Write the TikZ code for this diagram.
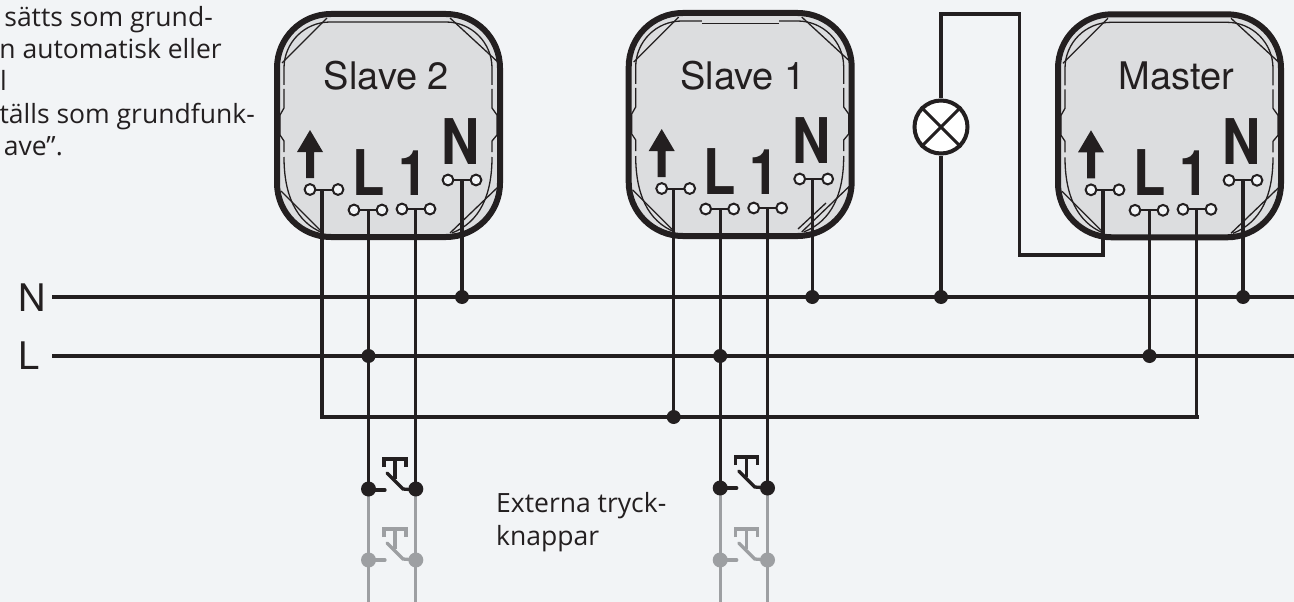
\documentclass[tikz,border=0pt]{standalone}
\usepackage{fontspec}
\setmainfont{Open Sans}
\newfontfamily\arialf{TeX Gyre Heros}
\definecolor{bgc}{HTML}{F2F4F6}
\definecolor{ink}{HTML}{231F20}
\definecolor{devfill}{HTML}{DCDDDF}
\definecolor{greyw}{HTML}{9D9FA2}
\tikzset{
  wire/.style={draw=ink,line width=3.3pt},
  greywire/.style={draw=greyw,line width=3.3pt},
  shell/.style={draw=ink,line width=6pt,fill=devfill,rounded corners=54pt},
  fine/.style={draw=ink,line width=1.3pt},
  term/.style={circle,draw=ink,line width=2pt,fill=bgc,minimum size=10.8pt,inner sep=0pt},
  dotn/.style={circle,fill=ink,minimum size=14pt,inner sep=0pt},
  dotg/.style={circle,fill=greyw,minimum size=15pt,inner sep=0pt},
  dots/.style={circle,fill=ink,minimum size=15pt,inner sep=0pt},
  lab/.style={inner sep=0pt,anchor=base,text=ink,font=\arialf\fontsize{38}{38}\selectfont},
  blab/.style={inner sep=0pt,anchor=base,text=ink,font=\arialf\bfseries\fontsize{63}{63}\selectfont,xscale=.84},
  body/.style={inner sep=0pt,text=ink,font=\fontsize{26.5}{26.5}\selectfont},
}
% #1 name, #2 label, #3 dx, #4 dy, #5 shift of the N wire, #6 label centre
\newcommand{\devicebox}[6]{%
  \begin{scope}[shift={(#3,#4)}]
    \path[shell] (277,14) rectangle (500,237);
    \draw[fine,rounded corners=46pt] (284,85) -- (284,22) -- (492,22) -- (492,85);
    \draw[fine] (284,89) -- (284,108) -- (280,115) -- (280,135) -- (284,141) -- (284,152);
    \draw[fine] (492,89) -- (492,108) -- (497,115) -- (497,135) -- (492,141) -- (492,152);
    \draw[fine] (284,157) .. controls (284,195) and (296,222) .. (323,233);
    \draw[fine] (492,157) .. controls (492,195) and (480,222) .. (452,233);
    \draw[fine] (282,63) -- (327,18);
    \draw[fine] (450,18) -- (500,64);
    \draw[fine] (281,191) -- (323,233);
    \draw[fine] (450,233) -- (498,187);
    \fill[ink] (310,130) -- (323,152) -- (314,152) -- (314,178) -- (306,178) -- (306,152) -- (297,152) -- cycle;
    \node[blab,anchor=base west] (#1-L) at (352,195) {L};
    \node[blab,anchor=base west] (#1-one) at (398,195) {1};
    \node[blab,anchor=base west] (#1-N) at (441,164) {N};
    \draw[fine,line width=2pt] (310,189.5) -- (338,189.5) (354,210) -- (382,210) (402,209) -- (430,209) (448,180) -- (476,180);
    \foreach \tx/\ty/\tn in {310/189.5/a,338/189.5/b,354/210/c,382/210/d,402/209/e,430/209/f,448/180/g,476/180/h}
      \node[term] (#1-\tn) at (\tx,\ty) {};
    \coordinate (#1-up) at (322,189.5);
    \coordinate (#1-live) at (368.5,210);
    \coordinate (#1-sw) at (415.8,209);
    \coordinate (#1-neu) at (462+#5,180);
  \end{scope}
  \node[lab] (#1-name) at (#6,89) {#2};
}
% #1 name, #2 left wire x, #3 right wire x, #4 y offset, #5 colour
\newcommand{\pushbutton}[5]{%
  \begin{scope}[shift={(#2-368.5,#4)}]
    \draw[draw=#5,line width=3.3pt,line cap=round] (368.5,490) -- (385,490);
    \draw[draw=#5,line width=3.3pt,line cap=round] (387,473) -- (403,489) -- (416,490);
    \draw[draw=#5,line width=3.3pt] (384,467) -- (384,459) -- (406,459) -- (406,467);
    \draw[draw=#5,line width=3.3pt] (395,459) -- (395,479);
  \end{scope}
}
\begin{document}
\begin{tikzpicture}[x=1pt,y=-1pt]
  \useasboundingbox[fill=bgc] (0,0) rectangle (1294,602);

  \devicebox{sl2}{Slave 2}{0}{0}{0}{386.5}
  \devicebox{sl1}{Slave 1}{351.7}{-1}{-1.4}{743}
  \devicebox{mas}{Master}{781}{0.3}{0}{1176.5}

  % Slave 1 details
  \draw[devfill,line width=2pt] (702,21) -- (779,21);
  \draw[ink,line width=1.6pt] (702,23.5) -- (779,23.5);
  \draw[fine] (798,229) -- (826,203);

  % buses
  \node[lab,anchor=base west] (nN) at (18,311) {N};
  \node[lab,anchor=base west] (nL) at (18,369) {L};
  \coordinate (nbusL) at (52,297);
  \coordinate (nbusR) at (1294,297);
  \coordinate (lbusL) at (52,356);
  \coordinate (lbusR) at (1294,356);
  \coordinate (cbusL) at (320,417);
  \coordinate (cbusR) at (1199,417);
  \path[wire,line width=3.8pt] (nbusL) -- (nbusR);
  \path[wire,line width=3.8pt] (lbusL) -- (lbusR);
  \path[wire] (cbusL) -- (cbusR);

  % grey tails
  \coordinate (bot1) at (368.5,602);
  \path[greywire] (sl2-live |- 0,490) -- (sl2-live |- bot1);
  \path[greywire] (sl2-sw |- 0,490) -- (sl2-sw |- bot1);
  \path[greywire] (sl1-live |- 0,490) -- (sl1-live |- bot1);
  \path[greywire] (sl1-sw |- 0,490) -- (sl1-sw |- bot1);

  % wires from the devices
  \coordinate (swy1) at (0,488);
  \path[wire] (sl2-up) -- (sl2-up |- cbusL);
  \path[wire] (sl2-live) -- (sl2-live |- swy1);
  \path[wire] (sl2-sw) -- (sl2-sw |- swy1);
  \path[wire] (sl2-neu) -- (sl2-neu |- nbusL);
  \path[wire] (sl1-up) -- (sl1-up |- cbusL);
  \path[wire] (sl1-live) -- (sl1-live |- swy1);
  \path[wire] (sl1-sw) -- (sl1-sw |- swy1);
  \path[wire] (sl1-neu) -- (sl1-neu |- nbusL);
  \path[wire] (mas-live) -- (mas-live |- lbusL);
  \path[wire] (mas-sw) -- (mas-sw |- cbusL);
  \path[wire] (mas-neu) -- (mas-neu |- nbusL);

  % lamp circuit
  \coordinate (turnA) at (1019.5,255);
  \coordinate (turnB) at (1019.5,14);
  \node[circle,draw=ink,line width=4pt,fill=white,minimum size=53pt,inner sep=0pt] (lamp) at (941,127) {};
  \draw[ink,line width=3pt] (lamp.north west) -- (lamp.south east) (lamp.north east) -- (lamp.south west);
  \path[wire,line join=miter] (mas-up) -- (mas-up |- turnA) -- (turnA) -- (turnB) -- (lamp |- turnB) -- (lamp.north);
  \path[wire] (lamp.south) -- (lamp |- nbusL);

  % junctions
  \foreach \src/\bus/\nm in {sl2-neu/nbusL/j1,sl1-neu/nbusL/j2,lamp/nbusL/j3,mas-neu/nbusL/j4,sl2-live/lbusL/j5,sl1-live/lbusL/j6,mas-live/lbusL/j7,sl1-up/cbusL/j8}
    \node[dotn] (\nm) at (\src |- \bus) {};

  % push buttons
  \pushbutton{b1}{368.5}{415.8}{0}{ink}
  \pushbutton{b2}{720.2}{767.5}{-2}{ink}
  \pushbutton{b3}{368.5}{415.8}{70}{greyw}
  \pushbutton{b4}{720.2}{767.5}{70}{greyw}
  \node[dots] (s1a) at (368.5,489) {};
  \node[dots] (s1b) at (415.8,489) {};
  \node[dots] (s2a) at (720.2,488) {};
  \node[dots] (s2b) at (767.5,488) {};
  \node[dotg] (s3a) at (368.5,560) {};
  \node[dotg] (s3b) at (415.8,560) {};
  \node[dotg] (s4a) at (720.2,560) {};
  \node[dotg] (s4b) at (767.5,560) {};

  % texts
  \node[body,anchor=base west] (t1) at (496,512) {Externa tryck-};
  \node[body,anchor=base west] (t2) at (496,545) {knappar};
  \node[body,anchor=base east] (l1) at (213,27) {sätts som grund-};
  \node[body,anchor=base east] (l2) at (222,59) {n automatisk eller};
  \node[body,anchor=base west] (l3) at (0,91) {l};
  \node[body,anchor=base east] (l4) at (255,123) {tälls som grundfunk-};
  \node[body,anchor=base east] (l5) at (63,155) {ave”.};
\end{tikzpicture}
\end{document}
